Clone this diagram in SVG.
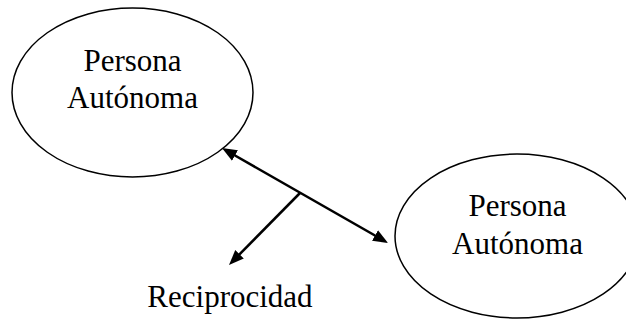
<svg xmlns="http://www.w3.org/2000/svg" width="626" height="320" viewBox="0 0 626 320">
<style>
.node{fill:#fff;stroke:#000;stroke-width:1.5}
.lbl{font-family:"Liberation Serif","Times New Roman",serif;font-size:31px;fill:#000;text-anchor:middle}
.conn{stroke:#000;stroke-width:2.5;fill:none}
</style>
<defs>
<marker id="ah" markerUnits="userSpaceOnUse" markerWidth="16" markerHeight="13" viewBox="0 0 16 13" refX="7" refY="6.5" orient="auto-start-reverse">
<path d="M0,0.5 L15,6.5 L0,12.5 z" fill="#000"/>
</marker>
</defs>
<rect width="626" height="320" fill="#fff"/>
<g id="node-persona1">
<ellipse class="node" cx="132.5" cy="92.5" rx="120.5" ry="84.5"/>
<text class="lbl" x="132.5" y="71">Persona</text>
<text class="lbl" x="132.5" y="108">Autónoma</text>
</g>
<g id="node-persona2">
<ellipse class="node" cx="517" cy="236" rx="122" ry="82"/>
<text class="lbl" x="517.5" y="216">Persona</text>
<text class="lbl" x="517.5" y="254">Autónoma</text>
</g>
<g id="node-reciprocidad">
<text class="lbl" x="230" y="307">Reciprocidad</text>
</g>
<g id="connectors">
<line class="conn" x1="228.9" y1="152" x2="381.1" y2="239" marker-start="url(#ah)" marker-end="url(#ah)"/>
<line class="conn" x1="300" y1="193" x2="234.6" y2="259.3" marker-end="url(#ah)"/>
</g>
</svg>
